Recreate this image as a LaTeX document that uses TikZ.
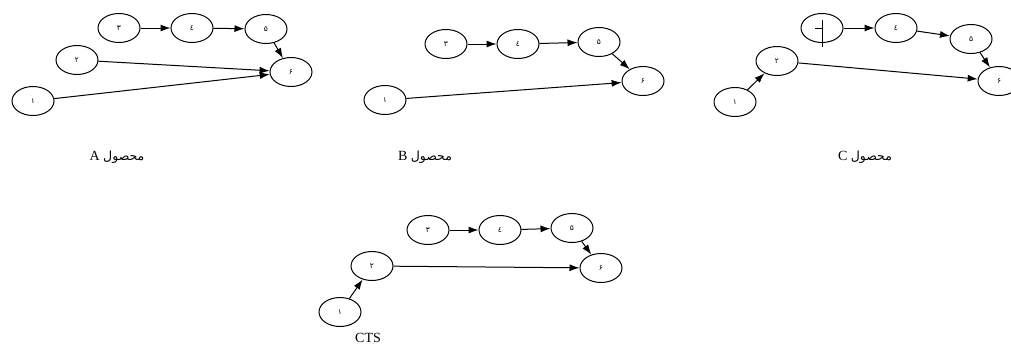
\documentclass[tikz,border=0pt]{standalone}
\usepackage{fontspec}
\setmainfont{Liberation Serif}
\newfontfamily\arabicfont[Script=Arabic]{DejaVu Sans}
\TeXXeTstate=1
\usetikzlibrary{arrows.meta,shapes.geometric}
\tikzset{
  st/.style={ellipse,draw,line width=1pt,minimum width=42pt,minimum height=29pt,inner sep=0pt,font=\arabicfont\fontsize{7.5}{8}\selectfont},
  ar/.style={draw,line width=1pt,-{Latex[length=10pt,width=7pt]}},
  lab/.style={font=\fontsize{14}{16}\selectfont,inner sep=0pt}
}
\newcommand{\fa}[1]{\beginR #1\endR}
\newcommand{\prodlab}[1]{#1 {\arabicfont\fontsize{12.5}{14}\selectfont\beginR محصول\endR}}
\begin{document}
\begin{tikzpicture}[x=1pt,y=-1pt]
\useasboundingbox (0,0) rectangle (1011,349);
\clip (0,0) rectangle (1011,349);
% Panel A
\node[st] (a3) at (119,28) {\fa{۳}};
\node[st] (a4) at (192,28) {\fa{٤}};
\node[st] (a5) at (266,29) {\fa{۵}};
\node[st] (a6) at (291,72) {\fa{۶}};
\node[st] (a2) at (77,60) {\fa{۲}};
\node[st] (a1) at (33,101) {\fa{۱}};
\draw[ar] (a3) -- (a4);
\draw[ar] (a4) -- (a5);
\draw[ar] (a5) -- (a6);
\draw[ar] (a2) -- (a6);
\draw[ar] (a1) -- (a6);
\node[lab] (la) at (117,157) {\prodlab{A}};
% Panel B
\node[st] (b3) at (446,44) {\fa{۳}};
\node[st] (b4) at (518,44) {\fa{٤}};
\node[st] (b5) at (599,42) {\fa{۵}};
\node[st] (b6) at (643,81) {\fa{۶}};
\node[st] (b1) at (385,100) {\fa{۱}};
\draw[ar] (b3) -- (b4);
\draw[ar] (b4) -- (b5);
\draw[ar] (b5) -- (b6);
\draw[ar] (b1) -- (b6);
\node[lab] (lb) at (425,157) {\prodlab{B}};
% Panel C
\node[st] (c3) at (822,28) {};
\node[st] (c4) at (896,28) {\fa{٤}};
\node[st] (c5) at (971,39) {\fa{۵}};
\node[st] (c6) at (999,81) {\fa{۶}};
\node[st] (c2) at (777,61) {\fa{۲}};
\node[st] (c1) at (735,102) {\fa{۱}};
\draw[ar] (c3) -- (c4);
\draw[ar] (c4) -- (c5);
\draw[ar] (c5) -- (c6);
\draw[ar] (c2) -- (c6);
\draw[ar] (c1) -- (c2);
\draw[line width=0.9pt] ([yshift=8pt]c3.center) -- ([yshift=-19pt]c3.center);
\draw[line width=0.9pt] ([xshift=-7pt]c3.center) -- (c3.center);
\node[lab] (lc) at (865,157) {\prodlab{C}};
% Panel CTS
\node[st] (d3) at (428,230) {\fa{۳}};
\node[st] (d4) at (500,230) {\fa{٤}};
\node[st] (d5) at (572,228) {\fa{۵}};
\node[st] (d6) at (601,268) {\fa{۶}};
\node[st] (d2) at (372,266) {\fa{۲}};
\node[st] (d1) at (340,312) {\fa{۱}};
\draw[ar] (d3) -- (d4);
\draw[ar] (d4) -- (d5);
\draw[ar] (d5) -- (d6);
\draw[ar] (d2) -- (d6);
\draw[ar] (d1) -- (d2);
\node[lab] (ld) at (368,338) {CTS};
\end{tikzpicture}
\end{document}
